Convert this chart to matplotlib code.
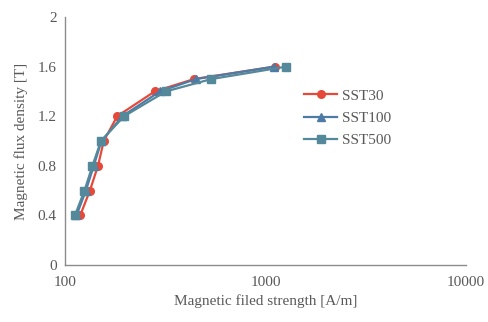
import matplotlib.pyplot as plt
import numpy as np

b_levels = [0.4, 0.6, 0.8, 1.0, 1.2, 1.4, 1.5, 1.6]
h_sst30 = [119, 133, 146, 156, 182, 280, 440, 1110]
h_sst100 = [114, 127, 139, 152, 193, 297, 450, 1100]
h_sst500 = [112, 125, 137, 151, 197, 318, 537, 1268]

plt.rcParams['font.family'] = ['Liberation Serif', 'DejaVu Serif']
grey = '#595959'

fig = plt.figure(figsize=(4.89, 3.22), dpi=100)
ax = fig.add_axes([0.133, 0.177, 0.820, 0.770])

ax.plot(h_sst30, b_levels, '-o', color='#e5493a', lw=1.6, ms=5.5, label='SST30')
ax.plot(h_sst100, b_levels, '-^', color='#4e7ba5', lw=1.6, ms=5.5, label='SST100')
ax.plot(h_sst500, b_levels, '-s', color='#54899b', lw=1.6, ms=5.5, label='SST500')

ax.set_xscale('log')
ax.set_xlim(100, 10000)
ax.set_ylim(0, 2)
ax.set_xticks([100, 1000, 10000])
ax.set_xticklabels(['100', '1000', '10000'])
ax.minorticks_off()
ax.set_yticks(np.arange(0, 2.01, 0.4))
ax.set_yticklabels(['0', '0.4', '0.8', '1.2', '1.6', '2'])
ax.tick_params(length=0, labelsize=11, colors=grey, pad=6)
ax.tick_params(axis='x', pad=8)

for s in ['top', 'right']:
    ax.spines[s].set_visible(False)
for s in ['left', 'bottom']:
    ax.spines[s].set_color('#8c8c8c')
    ax.spines[s].set_linewidth(1.0)

ax.set_xlabel('Magnetic filed strength [A/m]', fontsize=11, color=grey, labelpad=4)
ax.set_ylabel('Magnetic flux density [T]', fontsize=11, color=grey, labelpad=7)

leg = ax.legend(loc='upper left', bbox_to_anchor=(0.593, 0.766), bbox_transform=fig.transFigure,
                frameon=False, fontsize=11, handlelength=2.2, handletextpad=0.3,
                labelspacing=0.55)
for t in leg.get_texts():
    t.set_color(grey)

fig.savefig('out.png', dpi=100)
